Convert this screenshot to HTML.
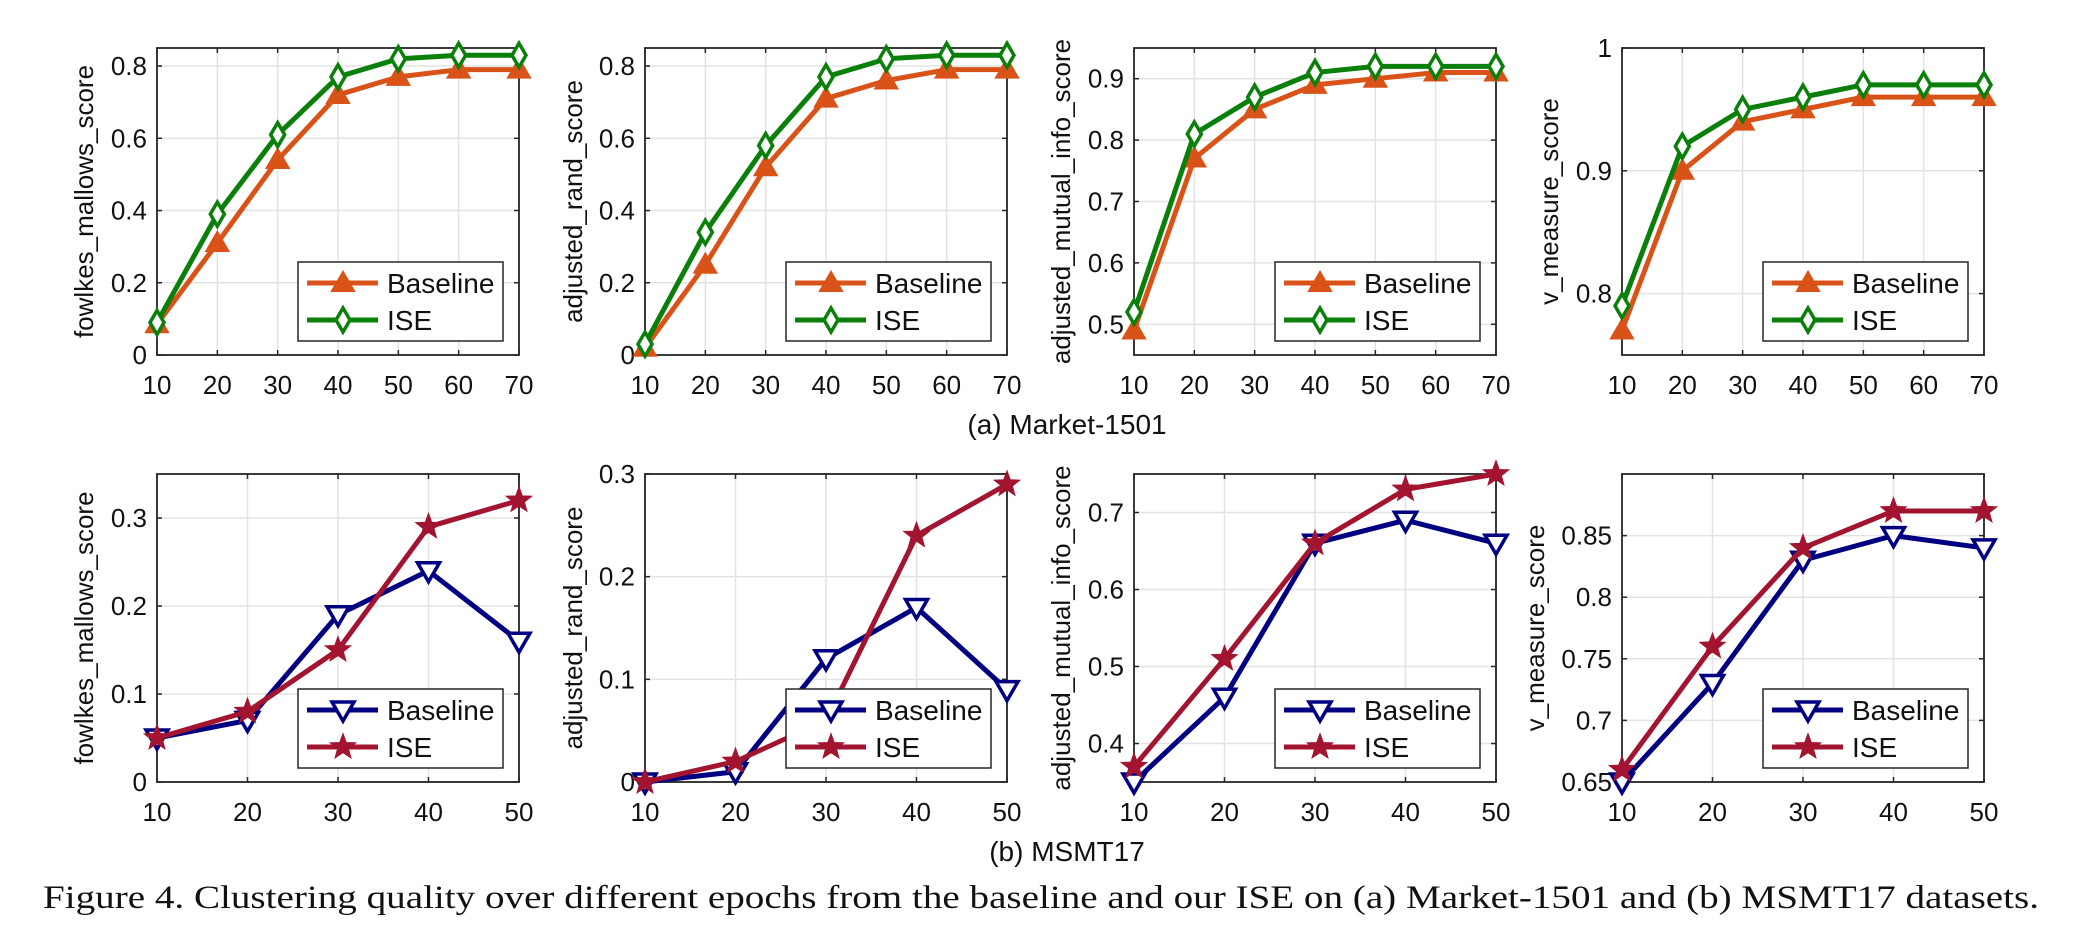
<!DOCTYPE html>
<html><head><meta charset="utf-8"><style>
html,body{margin:0;padding:0;background:#fff;}
svg{display:block;}
text{font-family:"Liberation Sans",sans-serif;fill:#111;}
</style></head><body>
<svg id="fig" width="2078" height="938" viewBox="0 0 2078 938" xmlns="http://www.w3.org/2000/svg">
<text x="1067" y="434" font-size="28" text-anchor="middle">(a) Market-1501</text>
<text x="1067" y="861" font-size="28" text-anchor="middle">(b) MSMT17</text>
<text x="43" y="908" font-size="33" textLength="1996" lengthAdjust="spacingAndGlyphs" style="font-family:'Liberation Serif',serif">Figure 4. Clustering quality over different epochs from the baseline and our ISE on (a) Market-1501 and (b) MSMT17 datasets.</text>
</svg>
<script>
// ---- data ----
const epochsA = [10,20,30,40,50,60,70];
const epochsB = [10,20,30,40,50];
const a1Base = [0.085,0.31,0.54,0.72,0.77,0.79,0.79];
const a1Ise  = [0.09,0.39,0.61,0.77,0.82,0.83,0.83];
const a2Base = [0.02,0.25,0.52,0.71,0.76,0.79,0.79];
const a2Ise  = [0.03,0.34,0.58,0.77,0.82,0.83,0.83];
const a3Base = [0.49,0.77,0.85,0.89,0.90,0.91,0.91];
const a3Ise  = [0.52,0.81,0.87,0.91,0.92,0.92,0.92];
const a4Base = [0.77,0.90,0.94,0.95,0.96,0.96,0.96];
const a4Ise  = [0.79,0.92,0.95,0.96,0.97,0.97,0.97];
const b1Base = [0.05,0.07,0.19,0.24,0.16];
const b1Ise  = [0.05,0.08,0.15,0.29,0.32];
const b2Base = [0.0,0.01,0.12,0.17,0.09];
const b2Ise  = [0.0,0.02,0.06,0.24,0.29];
const b3Base = [0.35,0.46,0.66,0.69,0.66];
const b3Ise  = [0.37,0.51,0.66,0.73,0.75];
const b4Base = [0.65,0.73,0.83,0.85,0.84];
const b4Ise  = [0.66,0.76,0.84,0.87,0.87];
const yTicksA12 = [0,0.2,0.4,0.6,0.8];
const yTickLabelsA12 = ['0','0.2','0.4','0.6','0.8'];
const yTicksA3 = [0.5,0.6,0.7,0.8,0.9];
const yTickLabelsA3 = ['0.5','0.6','0.7','0.8','0.9'];
const yTicksA4 = [0.8,0.9,1];
const yTickLabelsA4 = ['0.8','0.9','1'];
const yTicksB12 = [0,0.1,0.2,0.3];
const yTickLabelsB12 = ['0','0.1','0.2','0.3'];
const yTicksB3 = [0.4,0.5,0.6,0.7];
const yTickLabelsB3 = ['0.4','0.5','0.6','0.7'];
const yTicksB4 = [0.65,0.7,0.75,0.8,0.85];
const yTickLabelsB4 = ['0.65','0.7','0.75','0.8','0.85'];
const seriesNames = ['Baseline','ISE'];

const NS='http://www.w3.org/2000/svg';
const svg=document.getElementById('fig');
function mk(tag,attrs,parent){const e=document.createElementNS(NS,tag);for(const k in attrs)e.setAttribute(k,attrs[k]);(parent||svg).appendChild(e);return e;}

const panels=[
 {id:'a1',left:157,top:48,bottom:355,x:epochsA,s:[a1Base,a1Ise],ymin:0,ymax:0.85,yt:yTicksA12,yl:yTickLabelsA12,label:'fowlkes_mallows_score',row:'a',lo:73},
 {id:'a2',left:645,top:48,bottom:355,x:epochsA,s:[a2Base,a2Ise],ymin:0,ymax:0.85,yt:yTicksA12,yl:yTickLabelsA12,label:'adjusted_rand_score',row:'a',lo:72},
 {id:'a3',left:1134,top:48,bottom:355,x:epochsA,s:[a3Base,a3Ise],ymin:0.45,ymax:0.95,yt:yTicksA3,yl:yTickLabelsA3,label:'adjusted_mutual_info_score',row:'a',lo:73},
 {id:'a4',left:1622,top:48,bottom:355,x:epochsA,s:[a4Base,a4Ise],ymin:0.75,ymax:1,yt:yTicksA4,yl:yTickLabelsA4,label:'v_measure_score',row:'a',lo:73},
 {id:'b1',left:157,top:474,bottom:782,x:epochsB,s:[b1Base,b1Ise],ymin:0,ymax:0.35,yt:yTicksB12,yl:yTickLabelsB12,label:'fowlkes_mallows_score',row:'b',lo:73},
 {id:'b2',left:645,top:474,bottom:782,x:epochsB,s:[b2Base,b2Ise],ymin:0,ymax:0.3,yt:yTicksB12,yl:yTickLabelsB12,label:'adjusted_rand_score',row:'b',lo:72},
 {id:'b3',left:1134,top:474,bottom:782,x:epochsB,s:[b3Base,b3Ise],ymin:0.35,ymax:0.75,yt:yTicksB3,yl:yTickLabelsB3,label:'adjusted_mutual_info_score',row:'b',lo:73},
 {id:'b4',left:1622,top:474,bottom:782,x:epochsB,s:[b4Base,b4Ise],ymin:0.65,ymax:0.9,yt:yTicksB4,yl:yTickLabelsB4,label:'v_measure_score',row:'b',lo:87}
];
const W=362;
const styles={a:[{c:'#D95319',m:'triUp'},{c:'#0A7F0A',m:'diamond'}],b:[{c:'#000080',m:'triDown'},{c:'#A2142F',m:'star'}]};

function marker(g,type,cx,cy,c){
  let el;
  if(type==='triUp'){el=mk('polygon',{points:`${cx},${cy-11} ${cx+11},${cy+8} ${cx-11},${cy+8}`,fill:c,stroke:c,'stroke-width':2},g);}
  else if(type==='triDown'){el=mk('polygon',{points:`${cx-11},${cy-8} ${cx+11},${cy-8} ${cx},${cy+11}`,fill:'#fff',stroke:c,'stroke-width':3.5},g);}
  else if(type==='diamond'){el=mk('polygon',{points:`${cx},${cy-12} ${cx+7},${cy} ${cx},${cy+12} ${cx-7},${cy}`,fill:'#fff',stroke:c,'stroke-width':3.5},g);}
  else {let p=[];for(let i=0;i<10;i++){const r=i%2?5:12;const a=-Math.PI/2+i*Math.PI/5;p.push((cx+r*Math.cos(a)).toFixed(1)+','+(cy+r*Math.sin(a)).toFixed(1));}
    el=mk('polygon',{points:p.join(' '),fill:c,stroke:c,'stroke-width':2},g);}
  return el;
}

panels.forEach(P=>{
  const g=mk('g',{});
  
  
  const x0=P.x[0],x1=P.x[P.x.length-1];
  const sx=v=>P.left+(v-x0)/(x1-x0)*W;
  const sy=v=>P.bottom-(v-P.ymin)/(P.ymax-P.ymin)*(P.bottom-P.top);
  P.x.forEach(v=>{const l=mk('line',{x1:sx(v),x2:sx(v),y1:P.top,y2:P.bottom,stroke:'#e3e3e3','stroke-width':1.5},g);
    });
  P.yt.forEach(v=>{const l=mk('line',{x1:P.left,x2:P.left+W,y1:sy(v),y2:sy(v),stroke:'#e3e3e3','stroke-width':1.5},g);
    });
  P.x.forEach(v=>{mk('line',{x1:sx(v),x2:sx(v),y1:P.bottom,y2:P.bottom-5,stroke:'#262626','stroke-width':1.5},g);mk('line',{x1:sx(v),x2:sx(v),y1:P.top,y2:P.top+5,stroke:'#262626','stroke-width':1.5},g);
    const t=mk('text',{x:sx(v),y:P.bottom+39,'font-size':26,'text-anchor':'middle'},g);t.textContent=v;
    });
  P.yt.forEach((v,i)=>{mk('line',{x1:P.left,x2:P.left+5,y1:sy(v),y2:sy(v),stroke:'#262626','stroke-width':1.5},g);mk('line',{x1:P.left+W,x2:P.left+W-5,y1:sy(v),y2:sy(v),stroke:'#262626','stroke-width':1.5},g);
    const t=mk('text',{x:P.left-10,y:sy(v)+9,'font-size':26,'text-anchor':'end'},g);t.textContent=P.yl[i];
    });
  const box=mk('rect',{x:P.left,y:P.top,width:W,height:P.bottom-P.top,fill:'none',stroke:'#262626','stroke-width':1.8},g);
  
  const yl=mk('text',{x:0,y:0,'font-size':26,'text-anchor':'middle','dominant-baseline':'central',transform:`translate(${P.left-P.lo},${(P.top+P.bottom)/2}) rotate(-90)`},g);
  yl.textContent=P.label;
  
  P.s.forEach((arr,k)=>{
    const st=styles[P.row][k];
    const pts=arr.map((v,i)=>sx(P.x[i])+','+sy(v)).join(' ');
    const pl=mk('polyline',{points:pts,fill:'none',stroke:st.c,'stroke-width':5,'stroke-linejoin':'round'},g);
    
    arr.forEach((v,i)=>{const m=marker(g,st.m,sx(P.x[i]),sy(v),st.c);
      });
  });
  const lg=mk('g',{},g);
  
  const lx=P.left+141,ly=P.bottom-93;
  mk('rect',{x:lx,y:ly,width:205,height:79,fill:'#fff',stroke:'#262626','stroke-width':1.5},lg);
  seriesNames.forEach((n,k)=>{
    const st=styles[P.row][k];const cy=ly+21+k*37;
    const e=mk('g',{},lg);
    
    mk('line',{x1:lx+9,x2:lx+80,y1:cy,y2:cy,stroke:st.c,'stroke-width':5},e);
    marker(e,st.m,lx+45,cy,st.c);
    const t=mk('text',{x:lx+89,y:cy+10,'font-size':28},e);t.textContent=n;
  });
});
</script>
</body></html>
